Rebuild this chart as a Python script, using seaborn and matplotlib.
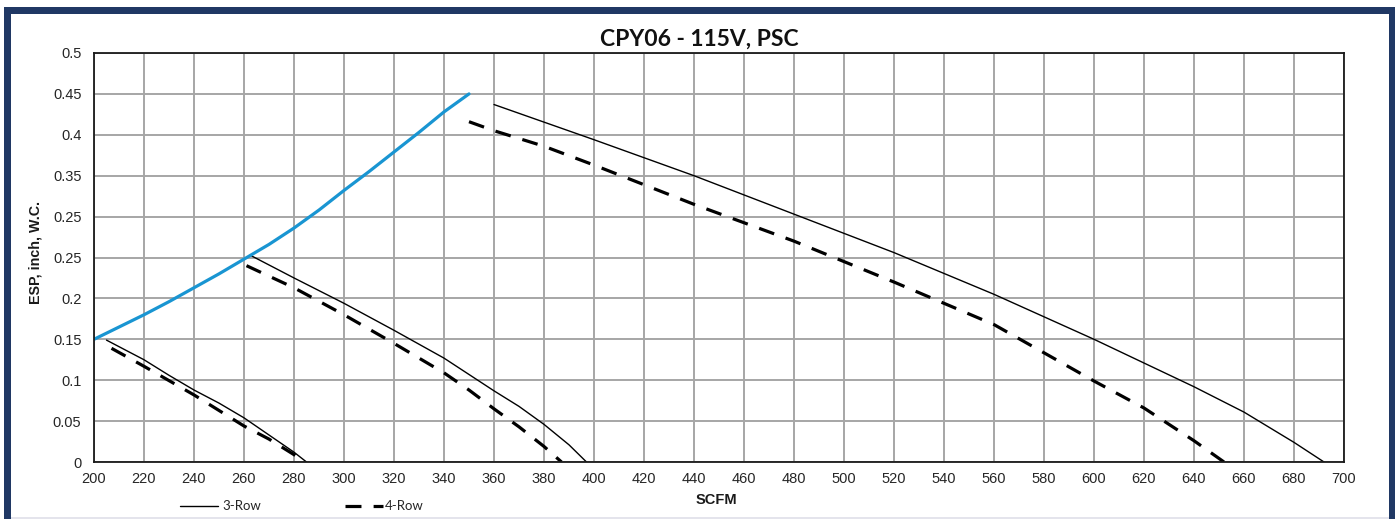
import numpy as np
import pandas as pd
import seaborn as sns
import matplotlib.pyplot as plt
from matplotlib.patches import Rectangle
from matplotlib.lines import Line2D

# Values (SCFM vs ESP, inch W.C.)
limit_scfm = [200, 210, 220, 230, 240, 250, 260, 270, 280, 290, 300, 310, 320, 330, 340, 350]
limit_esp = [0.150, 0.165, 0.180, 0.196, 0.213, 0.230, 0.248, 0.266, 0.286, 0.308,
             0.332, 0.355, 0.379, 0.403, 0.428, 0.450]

low3_scfm = [205, 220, 230, 240, 250, 260, 270, 280, 285]
low3_esp = [0.149, 0.125, 0.106, 0.088, 0.072, 0.054, 0.033, 0.012, 0.0]
low4_scfm = [207, 220, 240, 260, 270, 280, 284]
low4_esp = [0.139, 0.117, 0.082, 0.044, 0.028, 0.009, 0.0]

mid3_scfm = [263, 280, 300, 320, 340, 350, 360, 370, 380, 390, 397]
mid3_esp = [0.252, 0.225, 0.194, 0.161, 0.127, 0.107, 0.087, 0.068, 0.046, 0.021, 0.0]
mid4_scfm = [261, 280, 300, 320, 340, 350, 360, 370, 380, 387]
mid4_esp = [0.240, 0.213, 0.180, 0.145, 0.109, 0.088, 0.065, 0.043, 0.019, 0.0]

high3_scfm = [360, 400, 440, 480, 520, 560, 600, 640, 660, 680, 692]
high3_esp = [0.437, 0.394, 0.350, 0.303, 0.256, 0.205, 0.150, 0.092, 0.061, 0.024, 0.0]
high4_scfm = [350, 360, 380, 400, 440, 480, 520, 560, 600, 620, 640, 652]
high4_esp = [0.416, 0.405, 0.386, 0.363, 0.315, 0.270, 0.220, 0.168, 0.099, 0.066, 0.026, 0.0]

x_ticks = list(range(200, 701, 20))
y_ticks = [0, 0.05, 0.1, 0.15, 0.2, 0.25, 0.3, 0.35, 0.4, 0.45, 0.5]
y_tick_labels = ['0', '0.05', '0.1', '0.15', '0.2', '0.25', '0.25', '0.35', '0.4', '0.45', '0.5']

sns.set_style('white')
plt.rcParams['font.family'] = ['Liberation Sans', 'DejaVu Sans']

W, H = 1395, 519
fig = plt.figure(figsize=(W / 100, H / 100), dpi=100)
fig.patch.set_facecolor('white')

# navy frame round the chart
navy = '#203864'
fig.add_artist(Rectangle((4 / W, 0), 7 / W, (H - 7) / H, transform=fig.transFigure,
                         color=navy, lw=0))
fig.add_artist(Rectangle((4 / W, (H - 14) / H), (W - 4) / W, 7 / H,
                         transform=fig.transFigure, color=navy, lw=0))
fig.add_artist(Rectangle((1389 / W, 0), 6 / W, (H - 7) / H, transform=fig.transFigure,
                         color=navy, lw=0))
fig.add_artist(Rectangle((11 / W, 0), 1378 / W, 2 / H, transform=fig.transFigure,
                         color='#e4e4ec', lw=0))

ax = fig.add_axes([94 / W, (H - 462) / H, 1250 / W, 409 / H])

dash_style = (0, (5, 3.8))
solid = dict(color='black', linewidth=1.0)
dashed = dict(color='black', linewidth=2.3, linestyle=dash_style)

for xs, ys in [(low3_scfm, low3_esp), (mid3_scfm, mid3_esp), (high3_scfm, high3_esp)]:
    sns.lineplot(x=xs, y=ys, ax=ax, sort=False, **solid)
for xs, ys in [(low4_scfm, low4_esp), (mid4_scfm, mid4_esp), (high4_scfm, high4_esp)]:
    sns.lineplot(x=xs, y=ys, ax=ax, sort=False, **dashed)
sns.lineplot(x=limit_scfm, y=limit_esp, ax=ax, sort=False, color='#1995d2',
             linewidth=2.3)

ax.set_xlim(200, 700)
ax.set_ylim(0, 0.5)
ax.set_xticks(x_ticks)
ax.set_yticks(y_ticks)
ax.set_yticklabels(y_tick_labels)
ax.grid(True, color='#a6a6a6', linewidth=1.4)
ax.set_axisbelow(True)
for s in ax.spines.values():
    s.set_color('#1a1a1a')
    s.set_linewidth(1.3)
ax.tick_params(axis='both', length=0, labelsize=10.5, colors='#262626')
ax.tick_params(axis='y', pad=9)
ax.tick_params(axis='x', pad=7)

ax.set_xlabel('SCFM', fontsize=10.5, fontweight='bold', color='#1a1a1a')
ax.xaxis.set_label_coords(0.498, -0.076)
ax.set_ylabel('ESP, inch, W.C.', fontsize=10.3, fontweight='bold', color='#1a1a1a')
ax.yaxis.set_label_coords(-0.0408, 0.513)
ax.set_title('CPY06 - 115V, PSC', fontsize=16.5, fontweight='bold', family='Lato',
             pad=5, color='#111111', x=0.484)

# legend under the chart
ly = (H - 506) / H
fig.add_artist(Line2D([180 / W, 218 / W], [ly, ly], transform=fig.transFigure,
                      color='black', linewidth=1.0))
fig.text(222 / W, ly, '3-Row', family='Lato', fontsize=9.5, va='center', ha='left')
fig.add_artist(Line2D([345 / W, 383 / W], [ly, ly], transform=fig.transFigure,
                      color='black', linewidth=2.3, linestyle=dash_style))
fig.text(385 / W, ly, '4-Row', family='Lato', fontsize=9.5, va='center', ha='left')

fig.savefig('out.png', dpi=100, facecolor='white')
